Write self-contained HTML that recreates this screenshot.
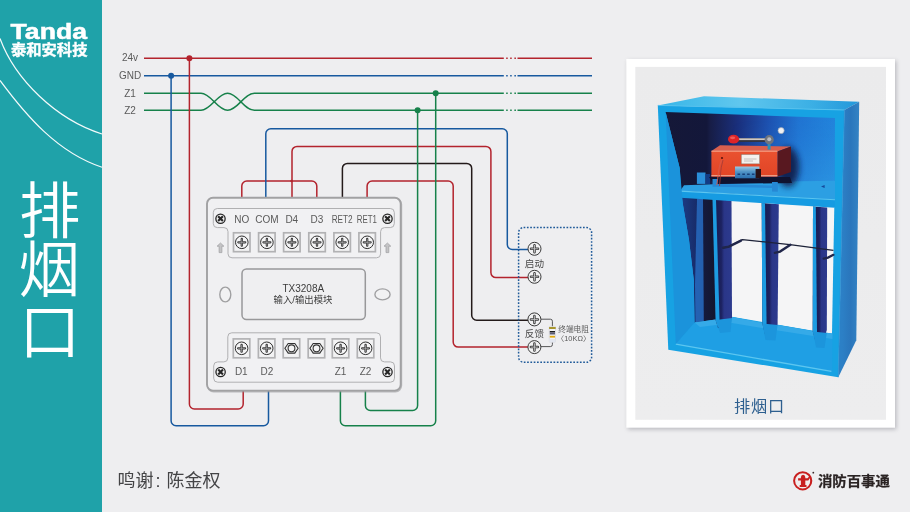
<!DOCTYPE html>
<html lang="zh">
<head>
<meta charset="utf-8">
<title>排烟口</title>
<style>
html,body{margin:0;padding:0;background:#eeeef0;}
body{width:910px;height:512px;overflow:hidden;position:relative;font-family:"Liberation Sans","Noto Sans CJK SC",sans-serif;}
svg{position:absolute;left:0;top:0;display:block;will-change:transform;}
text{font-family:"Liberation Sans","Noto Sans CJK SC",sans-serif;}
.lab{font-size:10px;fill:#5a5a5a;}
.w{fill:none;stroke-width:1.5;stroke-linecap:butt;stroke-linejoin:round;}
.r{stroke:#b3232d;}
.b{stroke:#17599f;}
.g{stroke:#16814a;}
.k{stroke:#231a1a;}
</style>
</head>
<body>
<svg width="910" height="512" viewBox="0 0 910 512">
<defs>
<g id="scr">
<circle cx="0" cy="0" r="6.3" fill="#f4f4f5" stroke="#2e2e2e" stroke-width="1"/>
<path d="M-3.4,0 H3.4 M0,-3.4 V3.4" stroke="#2e2e2e" stroke-width="2.3" stroke-linecap="round" fill="none"/>
<path d="M-3.2,0 H3.2 M0,-3.2 V3.2" stroke="#b9b9bb" stroke-width="0.7" stroke-linecap="round" fill="none"/>
</g>
<g id="xscr">
<circle cx="0" cy="0" r="4.65" fill="#f1f1f2" stroke="#262626" stroke-width="1.3"/>
<path d="M-1.65,-1.65 L1.65,1.65 M-1.65,1.65 L1.65,-1.65" stroke="#262626" stroke-width="2.1" stroke-linecap="square" fill="none"/>
</g>
<g id="arr">
<path d="M0,-4.8 L3.4,-1.6 H1.4 V4.8 H-1.4 V-1.6 H-3.4 Z" fill="#c4c4c6" stroke="#9e9ea0" stroke-width="0.7" stroke-linejoin="round"/>
</g>
<g id="tscr">
<circle cx="0" cy="0" r="6.5" fill="#f1f1f2" stroke="#3a3a3a" stroke-width="1"/>
<path d="M-3.5,0 H3.5 M0,-3.5 V3.5" stroke="#3a3a3a" stroke-width="2.5" stroke-linecap="round" fill="none"/>
<path d="M-3.4,0 H3.4 M0,-3.4 V3.4" stroke="#c6c6c8" stroke-width="0.9" stroke-linecap="round" fill="none"/>
</g>
<filter id="cardsh" x="-5%" y="-5%" width="110%" height="110%"><feGaussianBlur stdDeviation="2.2"/></filter>
<filter id="b1" x="-30%" y="-30%" width="160%" height="160%"><feGaussianBlur stdDeviation="1"/></filter>
<filter id="b3" x="-30%" y="-30%" width="160%" height="160%"><feGaussianBlur stdDeviation="3"/></filter>
<filter id="b05" x="-10%" y="-10%" width="120%" height="120%"><feGaussianBlur stdDeviation="0.45"/></filter>
<linearGradient id="gInner" x1="0" y1="0" x2="0" y2="1"><stop offset="0" stop-color="#ebebec"/><stop offset="1" stop-color="#ededee"/></linearGradient>
<linearGradient id="gBack" gradientUnits="userSpaceOnUse" x1="666" y1="0" x2="836" y2="0">
<stop offset="0" stop-color="#151838"/><stop offset="0.24" stop-color="#13173a"/><stop offset="0.26" stop-color="#171d46"/><stop offset="0.42" stop-color="#1a2f7c"/><stop offset="0.6" stop-color="#1d51b0"/><stop offset="0.78" stop-color="#2074d2"/><stop offset="1" stop-color="#2284dc"/></linearGradient>
<linearGradient id="gTop" gradientUnits="userSpaceOnUse" x1="660" y1="0" x2="860" y2="0">
<stop offset="0" stop-color="#38b6e8"/><stop offset="0.4" stop-color="#60c7ee"/><stop offset="0.75" stop-color="#3cb0e5"/><stop offset="1" stop-color="#2397da"/></linearGradient>
<linearGradient id="gSide" gradientUnits="userSpaceOnUse" x1="842" y1="0" x2="859" y2="0">
<stop offset="0" stop-color="#2c80c6"/><stop offset="0.5" stop-color="#2a76bc"/><stop offset="1" stop-color="#3483c4"/></linearGradient>
<linearGradient id="gOr" x1="0" y1="0" x2="0" y2="1"><stop offset="0" stop-color="#ea5230"/><stop offset="1" stop-color="#e04426"/></linearGradient>
<linearGradient id="gTB" x1="0" y1="0" x2="0" y2="1"><stop offset="0" stop-color="#9cc9e2"/><stop offset="0.45" stop-color="#4f93c6"/><stop offset="1" stop-color="#2a6faf"/></linearGradient>
<linearGradient id="gBlade" x1="0" y1="0" x2="1" y2="0"><stop offset="0" stop-color="#171b4a"/><stop offset="0.45" stop-color="#1c2260"/><stop offset="0.6" stop-color="#2a3688"/><stop offset="1" stop-color="#2c3a8e"/></linearGradient>
<linearGradient id="gShade" gradientUnits="userSpaceOnUse" x1="0" y1="120" x2="0" y2="195"><stop offset="0" stop-color="#2a8ee0" stop-opacity="0"/><stop offset="1" stop-color="#2e9ae2" stop-opacity="0.85"/></linearGradient>
<linearGradient id="gMaskH" gradientUnits="userSpaceOnUse" x1="730" y1="0" x2="835" y2="0"><stop offset="0" stop-color="#000"/><stop offset="0.45" stop-color="#666"/><stop offset="1" stop-color="#fff"/></linearGradient>
<mask id="mShade" maskUnits="userSpaceOnUse" x="690" y="100" width="160" height="120"><rect x="690" y="100" width="160" height="120" fill="url(#gMaskH)"/></mask>
<linearGradient id="gLeftDark" gradientUnits="userSpaceOnUse" x1="683" y1="0" x2="715" y2="0"><stop offset="0" stop-color="#1b3a82"/><stop offset="0.4" stop-color="#182c6a"/><stop offset="0.62" stop-color="#151a3e"/><stop offset="1" stop-color="#13162f"/></linearGradient>
<!--DEFS-->
</defs>
<rect x="0" y="0" width="910" height="512" fill="#eeeef0"/>
<g id="sidebar">
<rect x="0" y="0" width="102" height="512" fill="#1fa2a9"/>
<path d="M0,38.5 C15,79.3 55.7,119.2 102,134" fill="none" stroke="#ffffff" stroke-width="1.2" opacity="0.95"/>
<path d="M0,80.4 C25.9,115.3 57.2,152.4 102,167.2" fill="none" stroke="#ffffff" stroke-width="1.2" opacity="0.95"/>
<text x="10.6" y="39" font-size="22.3" font-weight="bold" fill="#ffffff" stroke="#ffffff" stroke-width="0.5" textLength="76.4" lengthAdjust="spacingAndGlyphs">Tanda</text>
<text x="10.9" y="54.5" font-size="14.3" font-weight="bold" fill="#ffffff" stroke="#ffffff" stroke-width="0.35" textLength="76.6" lengthAdjust="spacingAndGlyphs">泰和安科技</text>
<g font-size="61.5" font-weight="350" fill="#ffffff" text-anchor="middle">
<text x="49.8" y="232.6">排</text>
<text x="49.2" y="292.3">烟</text>
<text x="49.8" y="353.7">口</text>
</g>
</g>
<g id="wires">
<g class="lab" text-anchor="middle">
<text x="130" y="61.4">24v</text>
<text x="130" y="79">GND</text>
<text x="130" y="96.6">Z1</text>
<text x="130" y="113.8">Z2</text>
</g>
<!-- bus lines -->
<path class="w r" d="M144,58.2 H503.8 M506.2,58.2 h1.5 M510.2,58.2 h1.5 M514.4,58.2 h1.5 M517.5,58.2 H592"/>
<path class="w b" d="M144,75.7 H503.8 M506.2,75.7 h1.5 M510.2,75.7 h1.5 M514.4,75.7 h1.5 M517.5,75.7 H592"/>
<path class="w g" d="M144,93.3 H201 C211,93.3 217.5,110.3 227.6,110.3 C237.7,110.3 244,93.3 254.4,93.3 H503.8 M506.2,93.3 h1.5 M510.2,93.3 h1.5 M514.4,93.3 h1.5 M517.5,93.3 H592"/>
<path class="w g" d="M144,110.3 H201 C211,110.3 217.5,93.3 227.6,93.3 C237.7,93.3 244,110.3 254.4,110.3 H503.8 M506.2,110.3 h1.5 M510.2,110.3 h1.5 M514.4,110.3 h1.5 M517.5,110.3 H592"/>
<!-- D1 (red) to 24v, D2 (blue) to GND -->
<path class="w r" d="M243.2,391 V404 a5,5 0 0 1 -5,5 H194.4 a5,5 0 0 1 -5,-5 V58.2"/>
<path class="w b" d="M268.5,391 V420.8 a5,5 0 0 1 -5,5 H176.1 a5,5 0 0 1 -5,-5 V75.7"/>
<circle cx="189.4" cy="58.2" r="3" fill="#b3232d"/>
<circle cx="171.1" cy="75.7" r="3" fill="#17599f"/>
<!-- top wires -->
<path class="w r" d="M241.8,198 V186 a5,5 0 0 1 5,-5 H311.8 a5,5 0 0 1 5,5 V198"/>
<path class="w b" d="M265.8,198 V133.8 a5,5 0 0 1 5,-5 H502.3 a5,5 0 0 1 5,5 V244.4 a5,5 0 0 0 5,5 H528"/>
<path class="w r" d="M292,198 V151.4 a5,5 0 0 1 5,-5 H485.9 a5,5 0 0 1 5,5 V272.6 a5,5 0 0 0 5,5 H528"/>
<circle cx="291.6" cy="181" r="1.2" fill="#b3232d"/>
<path class="w k" d="M342.4,198 V168.4 a5,5 0 0 1 5,-5 H466.7 a5,5 0 0 1 5,5 V315.3 a5,5 0 0 0 5,5 H528"/>
<path class="w r" d="M367.1,198 V186 a5,5 0 0 1 5,-5 H448.2 a5,5 0 0 1 5,5 V342.1 a5,5 0 0 0 5,5 H528"/>
<!-- Z wires (green, on top) -->
<path class="w g" d="M365.4,391 V405.5 a5,5 0 0 0 5,5 H412.6 a5,5 0 0 0 5,-5 V110.3"/>
<path class="w g" d="M340.4,391 V420.8 a5,5 0 0 0 5,5 H430.7 a5,5 0 0 0 5,-5 V93.3"/>
<circle cx="417.6" cy="110.3" r="3" fill="#16814a"/>
<circle cx="435.7" cy="93.3" r="3" fill="#16814a"/>
</g>
<g id="module">
<rect x="207.6" y="198.6" width="193.8" height="193" rx="6" ry="6" fill="none" stroke="#8f8f91" stroke-width="1.6" opacity="0.55"/>
<rect x="207" y="197.7" width="193.7" height="192.9" rx="6" ry="6" fill="#f0f0f2" stroke="#a1a1a3" stroke-width="1.9"/>
<path d="M217.3,208.5 H390.3 a4,4 0 0 1 4,4 V223.6 a4,4 0 0 1 -4,4 H384.6 a4,4 0 0 0 -4,4 V253.8 a4,4 0 0 1 -4,4 H232 a4,4 0 0 1 -4,-4 V231.6 a4,4 0 0 0 -4,-4 H217.3 a4,4 0 0 1 -4,-4 V212.5 a4,4 0 0 1 4,-4 Z" fill="#f1f1f3" stroke="#b0b0b2" stroke-width="1"/>
<path d="M232,332.8 H376.5 a4,4 0 0 1 4,4 V357.9 a4,4 0 0 0 4,4 H390.5 a4,4 0 0 1 4,4 V378.2 a4,4 0 0 1 -4,4 H217.7 a4,4 0 0 1 -4,-4 V365.9 a4,4 0 0 1 4,-4 H223.8 a4,4 0 0 0 4,-4 V336.8 a4,4 0 0 1 4,-4 Z" fill="#f1f1f3" stroke="#b0b0b2" stroke-width="1"/>
<rect x="242" y="269" width="123.3" height="50.5" rx="4.5" ry="4.5" fill="#efeff1" stroke="#98989a" stroke-width="1.5"/>
<ellipse cx="225.3" cy="294.5" rx="5.5" ry="7.4" fill="#f2f2f3" stroke="#a0a0a2" stroke-width="1.4"/>
<ellipse cx="382.5" cy="294.4" rx="7.6" ry="5.5" fill="#f2f2f3" stroke="#a0a0a2" stroke-width="1.4"/>
<text x="303.3" y="292" font-size="10" fill="#3c3c3c" text-anchor="middle">TX3208A</text>
<text x="303" y="303.2" font-size="9.4" fill="#3c3c3c" text-anchor="middle">输入/输出模块</text>
<use href="#xscr" x="220.5" y="218.7"/><use href="#xscr" x="387.5" y="218.7"/><use href="#xscr" x="220.6" y="372"/><use href="#xscr" x="387.5" y="372"/>
<use href="#arr" x="220.5" y="247.8"/><use href="#arr" x="387.4" y="247.8"/>
<g class="lab" font-size="10" text-anchor="middle" fill="#6a6a6c"><text x="241.8" y="222.8">NO</text><text x="267" y="222.8">COM</text><text x="291.8" y="222.8">D4</text><text x="317" y="222.8">D3</text><text x="342.2" y="222.8" textLength="21" lengthAdjust="spacingAndGlyphs">RET2</text><text x="366.8" y="222.8" textLength="20.2" lengthAdjust="spacingAndGlyphs">RET1</text><text x="241.3" y="375.2">D1</text><text x="266.9" y="375.2">D2</text><text x="340.5" y="375.2">Z1</text><text x="365.5" y="375.2">Z2</text></g>
<rect x="233.5" y="232.8" width="16.5" height="18.9" fill="#f3f3f4" stroke="#b2b2b4" stroke-width="1.7"/><use href="#scr" x="241.8" y="242.3"/><rect x="258.6" y="232.8" width="16.5" height="18.9" fill="#f3f3f4" stroke="#b2b2b4" stroke-width="1.7"/><use href="#scr" x="266.9" y="242.3"/><rect x="283.6" y="232.8" width="16.5" height="18.9" fill="#f3f3f4" stroke="#b2b2b4" stroke-width="1.7"/><use href="#scr" x="291.9" y="242.3"/><rect x="308.8" y="232.8" width="16.5" height="18.9" fill="#f3f3f4" stroke="#b2b2b4" stroke-width="1.7"/><use href="#scr" x="317.0" y="242.3"/><rect x="333.9" y="232.8" width="16.5" height="18.9" fill="#f3f3f4" stroke="#b2b2b4" stroke-width="1.7"/><use href="#scr" x="342.2" y="242.3"/><rect x="358.9" y="232.8" width="16.5" height="18.9" fill="#f3f3f4" stroke="#b2b2b4" stroke-width="1.7"/><use href="#scr" x="367.2" y="242.3"/>
<rect x="233.3" y="338.9" width="16.5" height="18.9" fill="#f3f3f4" stroke="#b2b2b4" stroke-width="1.7"/><use href="#scr" x="241.6" y="348.3"/><rect x="258.4" y="338.9" width="16.5" height="18.9" fill="#f3f3f4" stroke="#b2b2b4" stroke-width="1.7"/><use href="#scr" x="266.7" y="348.3"/><rect x="283.2" y="338.9" width="16.5" height="18.9" fill="#f3f3f4" stroke="#b2b2b4" stroke-width="1.7"/><polygon points="298.10,348.30 294.80,353.15 288.20,353.15 284.90,348.30 288.20,343.45 294.80,343.45" fill="#f6f6f6" stroke="#333333" stroke-width="1.1"/><circle cx="291.5" cy="348.3" r="3.4" fill="#f6f6f6" stroke="#333333" stroke-width="1.1"/><rect x="308.2" y="338.9" width="16.5" height="18.9" fill="#f3f3f4" stroke="#b2b2b4" stroke-width="1.7"/><polygon points="323.10,348.30 319.80,353.15 313.20,353.15 309.90,348.30 313.20,343.45 319.80,343.45" fill="#f6f6f6" stroke="#333333" stroke-width="1.1"/><circle cx="316.5" cy="348.3" r="3.4" fill="#f6f6f6" stroke="#333333" stroke-width="1.1"/><rect x="332.3" y="338.9" width="16.5" height="18.9" fill="#f3f3f4" stroke="#b2b2b4" stroke-width="1.7"/><use href="#scr" x="340.6" y="348.3"/><rect x="357.3" y="338.9" width="16.5" height="18.9" fill="#f3f3f4" stroke="#b2b2b4" stroke-width="1.7"/><use href="#scr" x="365.6" y="348.3"/>
</g>
<g id="termbox">
<rect x="518.6" y="227.6" width="73" height="134.6" rx="5" ry="5" fill="none" stroke="#1f5a99" stroke-width="1.5" stroke-dasharray="1.7 1.6"/>
<path d="M541,319.2 H550.4 a2,2 0 0 1 2,2 V344.6 a2,2 0 0 1 -2,2 H541" fill="none" stroke="#555557" stroke-width="1"/>
<rect x="549.3" y="326.3" width="6.2" height="16" rx="0.8" fill="#f4f4f6" stroke="#c9c9cf" stroke-width="0.5"/>
<rect x="549.1" y="327" width="6.6" height="2" fill="#a8962e"/>
<rect x="549.8" y="331" width="5.2" height="1.5" fill="#1c1c1c"/>
<rect x="549.8" y="332.5" width="5.2" height="2" fill="#5d5d75"/>
<rect x="549.8" y="335.8" width="5.2" height="1.8" fill="#e0a80e"/>
<rect x="549.3" y="339" width="6.2" height="3.3" fill="#e3e7f0"/>
<use href="#tscr" x="534.5" y="248.8"/>
<use href="#tscr" x="534.5" y="276.8"/>
<use href="#tscr" x="534.4" y="319.4"/>
<use href="#tscr" x="534.4" y="347.1"/>
<text x="534.4" y="267" font-size="9.6" fill="#4a4a4a" text-anchor="middle">启动</text>
<text x="534.4" y="337.4" font-size="9.6" fill="#4a4a4a" text-anchor="middle">反馈</text>
<text x="573.6" y="331.6" font-size="7.7" fill="#5a5a5a" text-anchor="middle">终端电阻</text>
<text x="573.6" y="340.8" font-size="7.4" fill="#5a5a5a" text-anchor="middle">〈10KΩ〉</text>
</g>
<g id="photo">
<rect x="627.8" y="60.6" width="268.6" height="368.8" fill="#5a5a66" opacity="0.36" filter="url(#cardsh)"/>
<rect x="626.3" y="58.9" width="268.7" height="368.8" fill="#ffffff"/>
<rect x="635.3" y="66.9" width="250.7" height="352.9" fill="url(#gInner)"/>
<g id="box">
<!-- top face -->
<polygon points="657.8,105.4 704,96.3 859.2,101.7 844.4,110" fill="url(#gTop)"/>
<!-- right side -->
<polygon points="844.4,110 859.2,101.7 856.3,340.3 838.3,377.2" fill="url(#gSide)"/>
<!-- front face (frame) -->
<polygon points="657.8,105.4 844.4,110 838.3,377.2 668.3,349.7" fill="#17a2e3"/>
<!-- white see-through area under shelf -->
<polygon points="712,199 834.3,207 832,334 715.6,314" fill="#f5f5f6"/>
<!-- back wall above shelf -->
<polygon points="665.6,112 835,118 834.4,201 681,191 679.7,168" fill="url(#gBack)"/>
<polygon points="700,114 835,118 834.4,201 700,193" fill="url(#gShade)" mask="url(#mShade)"/>
<!-- dark region under shelf, left -->
<polygon points="681.5,196 713,198 716,320 694.5,323 693.8,280 689,240 683,205" fill="url(#gLeftDark)"/>
<polygon points="697,198.5 703,198.8 703.8,321 695.5,322.5 695,285" fill="#2668bc" opacity="0.9" filter="url(#b05)"/>
<!-- floor -->
<polygon points="694.5,322.5 715.6,319.5 732,317 762,322.7 778,325 812.7,331 832.4,333.6 832.2,372 675.8,344" fill="#1f9fe4"/>
<polygon points="694.5,322.5 715.6,319.5 732,317 762,322.7 778,325 812.7,331 832.4,333.6 832.4,339 762,328 732,323 700,327" fill="#35aae8"/>
<!-- front lip highlight -->
<path d="M675.8,344.2 L831.4,371.4" stroke="#5cc6f0" stroke-width="1.3" fill="none"/>
<!-- blades -->
<polygon points="712.5,199 731.5,200.5 732,317.5 727,329 718,328 715.6,320" fill="url(#gBlade)"/>
<polygon points="712.5,199 716,199.3 719.6,322 718,328 715.6,320" fill="#1d9ce2"/>
<polygon points="761.7,203 778.8,204.3 777.6,324 774,335.6 765,334.5 762.3,323" fill="url(#gBlade)"/>
<polygon points="761.7,203 765,203.3 766.6,325 765,334.5 762.3,323" fill="#1d9ce2"/>
<polygon points="813,206.5 827.2,207.5 826.8,330 823,342.6 815.5,341.5 812.7,331" fill="url(#gBlade)"/>
<polygon points="813,206.5 815.8,206.7 817,332 815.5,341.5 812.7,331" fill="#1d9ce2"/>
<!-- blade feet -->
<polygon points="716,320 732,318 730.5,332 720,333" fill="#1c95dc"/>
<polygon points="762.5,323.5 777.6,325 775.5,340.5 765.5,340" fill="#1c95dc"/>
<polygon points="813,331.5 826.8,333 824.5,348 816,347.5" fill="#1c95dc"/>
<!-- linkage -->
<path d="M723,247.8 L728,246.8 L742.5,239.6 L790,244.6 L833.4,250.4" fill="none" stroke="#1d2238" stroke-width="1.3" stroke-linejoin="round"/>
<path d="M723,247.8 L729,246.6 L741,240.6" fill="none" stroke="#20264a" stroke-width="2.4" stroke-linecap="round"/>
<path d="M774.8,252.8 L780,251.6 L790.4,244.8" fill="none" stroke="#20264a" stroke-width="2.4" stroke-linecap="round"/>
<path d="M823.6,258.6 L828,257.6 L833.4,254.8" fill="none" stroke="#20264a" stroke-width="2.2" stroke-linecap="round"/>
<!-- shelf -->
<polygon points="680,190.9 684,185.3 800,181.2 835,180.8 835,199.6" fill="#2c9fe3"/>
<polygon points="680,190.9 835,199.6 834.6,207.8 680.6,197.8" fill="#169be2"/>
<path d="M680,191.1 L835,199.8" stroke="#5cc5ef" stroke-width="1.1" fill="none"/>
<!-- left lit wall above is front-face colour; add subtle shading -->
<polygon points="665.6,112 679.7,168 683,205 689,240 693.8,280 694.5,322.5 675.8,344" fill="#1b93db"/>
<!-- small blue block on shelf -->
<rect x="696.9" y="172.5" width="8.6" height="11.4" fill="#2a8fda"/>
<rect x="705.5" y="174" width="4.5" height="10" fill="#123c86"/>
<!-- actuator shadow -->
<ellipse cx="788" cy="167" rx="11" ry="20" fill="#0e1640" opacity="0.85" filter="url(#b3)"/>
<!-- base plate -->
<polygon points="709,177 790,177 792,183 714,184" fill="#0f1330"/>
<polygon points="712.5,179 717.5,179 717.5,184 772,185.4 772,182 777.8,182 777.8,191.8 772,191.6 772,188 717.5,186.8 712.5,186.8" fill="#2688d4"/>
<!-- orange actuator -->
<polygon points="711.4,151 720,145.2 791,146.5 777.4,151.4" fill="#d95f4e"/>
<polygon points="777.4,151.4 791,146.5 791,172 777.3,176.7" fill="#581820"/>
<rect x="711.4" y="151" width="66" height="25.7" fill="url(#gOr)"/>
<path d="M711.4,151.2 H777.4" stroke="#f7b39c" stroke-width="0.9"/>
<path d="M711.4,175.6 H777.4" stroke="#f2b49a" stroke-width="1.2" opacity="0.8"/>
<rect x="741.2" y="154.4" width="18.5" height="9.5" fill="#f3f1ee" stroke="#8a6a5a" stroke-width="0.5"/>
<path d="M744,159 h12.5 M744,161 h9" stroke="#b9b5b0" stroke-width="0.8"/>
<circle cx="722" cy="158" r="1.1" fill="#5a1510"/>
<path d="M721.5,160 C718,168 718.5,176 716.8,185" fill="none" stroke="#d8584a" stroke-width="0.9"/>
<path d="M723,160 C720,170 720.5,178 719.5,186" fill="none" stroke="#a03a3a" stroke-width="0.8"/>
<rect x="735" y="166.5" width="24.4" height="11.8" fill="url(#gTB)"/>
<path d="M737.5,174.2 h2.6 m2.2,0 h2.6 m2.2,0 h2.6 m2.2,0 h2.6" stroke="#173f78" stroke-width="1.6"/>
<rect x="755.6" y="169" width="5.4" height="9.3" fill="#2a1216"/>
<!-- knob + lever -->
<path d="M738,140 H767" stroke="#34343c" stroke-width="3.8"/>
<path d="M738,139.2 H767" stroke="#cfc9c4" stroke-width="1.8"/>
<ellipse cx="733.6" cy="139.2" rx="5.6" ry="4.4" fill="#de2428"/>
<ellipse cx="732.6" cy="137.8" rx="2.6" ry="1.4" fill="#f0605c" opacity="0.9"/>
<rect x="767.6" y="143" width="3" height="6.6" fill="#2f8fb4"/>
<circle cx="769.2" cy="139.7" r="4.6" fill="#6f757e"/>
<circle cx="769.2" cy="139.2" r="2" fill="#b9bcc2"/>
<circle cx="781.1" cy="130.6" r="3.1" fill="#f1f1f2" stroke="#93a0b4" stroke-width="0.7"/>
<!-- bolt on shelf -->
<path d="M821,186.5 l3.6,-1.4 v3 z" fill="#164a9c"/>
<!-- frame edges / subtle lines -->
<path d="M657.8,105.4 L844.4,110" stroke="#55c2ee" stroke-width="1" fill="none" opacity="0.9"/>
<path d="M844.4,110 L838.3,377.2" stroke="#2f8fd2" stroke-width="0.8" fill="none"/>
</g>
<text x="759.6" y="412" font-size="16.2" fill="#2d5f8f" text-anchor="middle" letter-spacing="0.8">排烟口</text>
</g>
<g id="footer">
<text x="117.6" y="486.8" font-size="18" fill="#444446">鸣谢<tspan x="155.4">: </tspan><tspan x="166.5">陈金权</tspan></text>
<g id="logo">
<circle cx="802.7" cy="480.8" r="8.6" fill="#f1ecec" stroke="#c81f1f" stroke-width="2"/>
<path d="M800.9,477.3 a2.2,2.6 0 0 1 4.4,0 v1 h2.2 l2.4,-2.6 l1,1.1 l-2.6,3.6 h-3 v4.6 h1.2 v1.9 h-6.8 v-1.9 h1.2 v-4.6 h-2.8 v-2.1 h2.8 z" fill="#c81f1f"/>
<path d="M809.2,474.6 a9,9 0 0 1 -2.4,14 a11,11 0 0 0 2.4,-14 z" fill="#c81f1f"/>
<circle cx="813.3" cy="472.7" r="0.9" fill="#3a2a2a"/>
<text x="818" y="486.1" font-size="13.4" font-weight="bold" fill="#2a2323" stroke="#2a2323" stroke-width="0.25" textLength="71.8" lengthAdjust="spacingAndGlyphs">消防百事通</text>
</g>
</g>
</svg>
</body>
</html>
